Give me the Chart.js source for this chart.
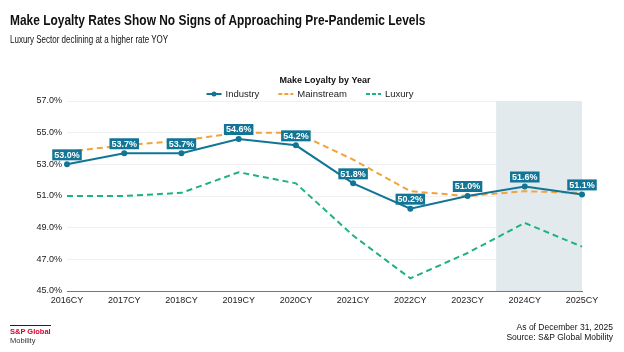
<!DOCTYPE html>
<html>
<head>
<meta charset="utf-8">
<script src="https://cdn.jsdelivr.net/npm/chart.js@4.4.1/dist/chart.umd.min.js"></script>
<style>
  html, body { margin: 0; padding: 0; background: #fff; }
  body {
    width: 624px; height: 352px; position: relative; overflow: hidden;
    font-family: "Liberation Sans", Arial, sans-serif;
    color: #111;
  }
  #title { position: absolute; left: 10px; top: 11px; font-size: 15.5px; font-weight: bold; white-space: nowrap; transform: scaleX(0.77); transform-origin: left top; }
  #subtitle { position: absolute; left: 10px; top: 34px; font-size: 10px; white-space: nowrap; transform: scaleX(0.8); transform-origin: left top; }
  #logo { position: absolute; left: 10px; top: 325px; font-size: 7.5px; line-height: 9px; }
  #logo .brand { color: #d6002a; font-weight: bold; border-top: 1px solid #222; padding-top: 1px; display: inline-block; }
  #logo .sub { color: #333; }
  #source { position: absolute; right: 11px; top: 322px; font-size: 8.5px; line-height: 10px; text-align: right; }
  #wrap { position: absolute; left: 0; top: 0; width: 624px; height: 352px; }
</style>
</head>
<body>
<div id="wrap"><canvas id="chart" width="624" height="352"></canvas></div>
<div id="title">Make Loyalty Rates Show No Signs of Approaching Pre-Pandemic Levels</div>
<div id="subtitle">Luxury Sector declining at a higher rate YOY</div>
<div id="logo"><span class="brand">S&amp;P Global</span><br><span class="sub">Mobility</span></div>
<div id="source">As of December 31, 2025<br>Source: S&amp;P Global Mobility</div>
<script>
// chart data
const years = ['2016CY', '2017CY', '2018CY', '2019CY', '2020CY', '2021CY', '2022CY', '2023CY', '2024CY', '2025CY'];
const industry = [53.0, 53.7, 53.7, 54.6, 54.2, 51.8, 50.2, 51.0, 51.6, 51.1];
const mainstream = [53.8, 54.2, 54.5, 55.0, 55.0, 53.3, 51.3, 51.0, 51.3, 51.2];
const luxury = [51.0, 51.0, 51.2, 52.5, 51.8, 48.5, 45.8, 47.4, 49.3, 47.8];
const yTicks = [45, 47, 49, 51, 53, 55, 57];
const shadedYears = ['2024CY', '2025CY'];
const legendTitle = 'Make Loyalty by Year';

const FONT = '"Liberation Sans", Arial, sans-serif';
const BLUE = '#127596';
const ORANGE = '#f2a33a';
const GREEN = '#1db37a';

// grey band behind the latest years
const shadePlugin = {
  id: 'shade',
  beforeDatasetsDraw(chart) {
    const x = chart.scales.x;
    const area = chart.chartArea;
    const first = years.indexOf(shadedYears[0]);
    const last = years.indexOf(shadedYears[shadedYears.length - 1]);
    const step = x.getPixelForValue(1) - x.getPixelForValue(0);
    const left = x.getPixelForValue(first) - step / 2;
    const right = Math.min(x.getPixelForValue(last) + step / 2, area.right);
    const ctx = chart.ctx;
    ctx.save();
    ctx.fillStyle = '#e2eaee';
    ctx.fillRect(left, area.top, right - left, area.bottom - area.top);
    ctx.restore();
  }
};

// value boxes above the Industry points
const labelPlugin = {
  id: 'valueBoxes',
  afterDatasetsDraw(chart) {
    const ctx = chart.ctx;
    const meta = chart.getDatasetMeta(0);
    ctx.save();
    ctx.font = 'bold 9px ' + FONT;
    ctx.textAlign = 'center';
    ctx.textBaseline = 'middle';
    meta.data.forEach((pt, i) => {
      const txt = industry[i].toFixed(1) + '%';
      const w = ctx.measureText(txt).width + 4;
      const h = 11;
      const bx = pt.x - w / 2;
      const by = pt.y - 4 - h;
      ctx.fillStyle = BLUE;
      ctx.fillRect(bx, by, w, h);
      ctx.fillStyle = '#fff';
      ctx.fillText(txt, pt.x, by + h / 2 + 0.5);
    });
    ctx.restore();
  }
};

// legend with a title, drawn above the plot
const legendPlugin = {
  id: 'topLegend',
  afterDraw(chart) {
    const ctx = chart.ctx;
    const cx = 310;
    ctx.save();
    ctx.fillStyle = '#111';
    ctx.font = 'bold 9px ' + FONT;
    ctx.textAlign = 'center';
    ctx.textBaseline = 'middle';
    ctx.fillText(legendTitle, 325, 81);

    ctx.font = '9.5px ' + FONT;
    ctx.textAlign = 'left';
    const sym = 15, gap = 4, spacing = 19;
    const items = chart.data.datasets.map(ds => ({ ds, w: sym + gap + ctx.measureText(ds.label).width }));
    const total = items.reduce((s, it) => s + it.w, 0) + spacing * (items.length - 1);
    let x = cx - total / 2;
    const y = 94;
    items.forEach(({ ds, w }) => {
      ctx.strokeStyle = ds.borderColor;
      ctx.lineWidth = 2;
      ctx.setLineDash(ds.borderDash ? [4, 2] : []);
      ctx.beginPath();
      ctx.moveTo(x, y);
      ctx.lineTo(x + sym, y);
      ctx.stroke();
      ctx.setLineDash([]);
      if (ds.pointRadius > 0) {
        ctx.fillStyle = ds.borderColor;
        ctx.beginPath();
        ctx.arc(x + sym / 2, y, 2.5, 0, Math.PI * 2);
        ctx.fill();
      }
      ctx.fillStyle = '#222';
      ctx.fillText(ds.label, x + sym + gap, y + 0.5);
      x += w + spacing;
    });
    ctx.restore();
  }
};

const ctx = document.getElementById('chart').getContext('2d');
new Chart(ctx, {
  type: 'line',
  data: {
    labels: years,
    datasets: [
      {
        label: 'Industry',
        data: industry,
        borderColor: BLUE,
        backgroundColor: BLUE,
        borderWidth: 2,
        pointRadius: 3,
        pointBackgroundColor: BLUE,
        pointBorderWidth: 0,
        tension: 0,
        order: 0
      },
      {
        label: 'Mainstream',
        data: mainstream,
        borderColor: ORANGE,
        borderWidth: 2,
        borderDash: [6, 4],
        pointRadius: 0,
        tension: 0,
        order: 1
      },
      {
        label: 'Luxury',
        data: luxury,
        borderColor: GREEN,
        borderWidth: 2,
        borderDash: [6, 4],
        pointRadius: 0,
        tension: 0,
        order: 2
      }
    ]
  },
  options: {
    responsive: false,
    animation: false,
    maintainAspectRatio: false,
    devicePixelRatio: 1,
    layout: { padding: { top: 101, right: 42, bottom: 41, left: 0 } },
    plugins: {
      legend: { display: false },
      tooltip: { enabled: false }
    },
    scales: {
      x: {
        grid: { display: false, drawTicks: false },
        border: { color: '#777', width: 1 },
        ticks: { color: '#222', font: { family: FONT, size: 9 }, padding: 4, maxRotation: 0, autoSkip: false },
        afterFit(scale) { scale.height = 20; }
      },
      y: {
        min: 45,
        max: 57,
        grid: { color: '#f0f0f0', drawTicks: false },
        border: { display: false },
        afterBuildTicks(scale) { scale.ticks = yTicks.map(v => ({ value: v })); },
        ticks: {
          color: '#222',
          font: { family: FONT, size: 9 },
          padding: 5,
          callback: v => v.toFixed(1) + '%'
        },
        afterFit(scale) { scale.width = 67; }
      }
    }
  },
  plugins: [shadePlugin, labelPlugin, legendPlugin]
});
</script>
</body>
</html>
